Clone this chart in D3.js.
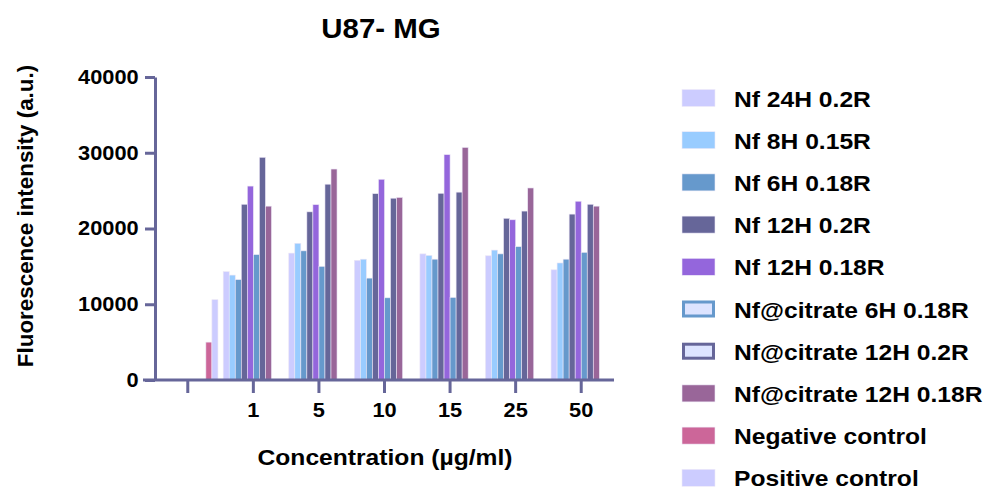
<!DOCTYPE html>
<html>
<head>
<meta charset="UTF-8">
<title>U87- MG</title>
<script src="https://d3js.org/d3.v7.min.js"></script>
<style>
  body { margin: 0; background: #fff; }
  text { font-family: "Liberation Sans", Arial, sans-serif; font-weight: bold; fill: #000; }
</style>
</head>
<body>
<script>
  // data
  var groups = ["", "1", "5", "10", "15", "25", "50"];
  var seriesNames = ["Nf 24H 0.2R", "Nf 8H 0.15R", "Nf 6H 0.18R", "Nf 12H 0.2R", "Nf 12H 0.18R",
                     "Nf@citrate 6H 0.18R", "Nf@citrate 12H 0.2R", "Nf@citrate 12H 0.18R",
                     "Negative control", "Positive control"];
  var nf24h     = [null, 14300, 16750, 15800, 16650, 16400, 14550];
  var nf8h      = [null, 13850, 18050, 15950, 16450, 17150, 15450];
  var nf6h      = [null, 13250, 17050, 13450, 15950, 16650, 15950];
  var nf12h02   = [null, 23200, 22200, 24600, 24650, 21350, 21900];
  var nf12h018  = [null, 25600, 23150, 26500, 29750, 21150, 23600];
  var cit6h     = [null, 16550, 15000, 10850, 10900, 17600, 16850];
  var cit12h02  = [null, 29400, 25850, 24000, 24800, 22300, 23200];
  var cit12h018 = [null, 22950, 27850, 24100, 30700, 25350, 22950];
  var negCtrl   = [5000, null, null, null, null, null, null];
  var posCtrl   = [10600, null, null, null, null, null, null];
  var yTicks = [0, 10000, 20000, 30000, 40000];

  var seriesValues = [nf24h, nf8h, nf6h, nf12h02, nf12h018, cit6h, cit12h02, cit12h018, negCtrl, posCtrl];
  var colors = ["#ccccff", "#99ccff", "#6699cc", "#666699", "#9466dc",
                "#6699cc", "#666699", "#996699", "#cc6699", "#ccccff"];
  var outlined = [false, false, false, false, false, true, true, false, false, false];
  var axisColor = "#666699";

  var width = 992, height = 492;
  var svg = d3.select("body").append("svg")
      .attr("width", width)
      .attr("height", height);

  var x0 = d3.scaleBand().domain(groups).range([155, 614]).paddingInner(0.08).paddingOuter(0.04);
  var x1 = d3.scaleBand().domain(seriesNames).range([0, x0.bandwidth()]);
  var y = d3.scaleLinear().domain([0, 40000]).range([380, 77]);

  // bars
  var rows = [];
  seriesNames.forEach(function(name, s) {
    groups.forEach(function(g, i) {
      if (seriesValues[s][i] != null) rows.push({ s: s, name: name, group: g, value: seriesValues[s][i] });
    });
  });

  svg.append("g").selectAll("rect")
    .data(rows)
    .enter().append("rect")
      .attr("x", function(d) { return x0(d.group) + x1(d.name); })
      .attr("y", function(d) { return y(d.value); })
      .attr("width", x1.bandwidth())
      .attr("height", function(d) { return y(0) - y(d.value); })
      .attr("fill", function(d) { return colors[d.s]; })
      .attr("stroke", "#ece6f6")
      .attr("stroke-width", 0.6);

  // y axis
  var yAxis = svg.append("g")
      .attr("transform", "translate(155,0)")
      .call(d3.axisLeft(y).tickValues(yTicks).tickFormat(d3.format("d")).tickSize(10).tickSizeOuter(0).tickPadding(5));
  yAxis.selectAll("path, line").attr("stroke", axisColor).attr("stroke-width", 3);
  yAxis.selectAll("text").style("font-size", "20px").attr("transform", "scale(1.09,1)");

  // x axis
  var xAxis = svg.append("g")
      .attr("transform", "translate(0,380)")
      .call(d3.axisBottom(x0).tickSize(13).tickSizeOuter(0).tickPadding(9));
  xAxis.select(".domain").remove();
  xAxis.selectAll("line").attr("stroke", axisColor).attr("stroke-width", 3);
  xAxis.selectAll("text").style("font-size", "20px").attr("transform", "scale(1.09,1)").attr("dy", "0.75em");
  xAxis.append("line")
      .attr("x1", 143).attr("x2", 614)
      .attr("stroke", axisColor).attr("stroke-width", 3);

  // title and axis labels
  svg.append("g").attr("transform", "translate(381,38)")
    .append("text").attr("text-anchor", "middle")
      .attr("transform", "scale(1.07,1)")
      .style("font-size", "27.5px")
      .text("U87- MG");

  svg.append("g").attr("transform", "translate(385,465)")
    .append("text").attr("text-anchor", "middle")
      .attr("transform", "scale(1.12,1)")
      .style("font-size", "22px")
      .text("Concentration (µg/ml)");

  svg.append("text")
      .attr("transform", "translate(33,216) rotate(-90)")
      .attr("text-anchor", "middle")
      .style("font-size", "22.4px")
      .text("Fluorescence intensity (a.u.)");

  // legend
  var legend = svg.append("g").selectAll("g")
    .data(seriesNames)
    .enter().append("g")
      .attr("transform", function(d, i) { return "translate(682," + (98 + i * 42.2) + ")"; });

  legend.append("rect")
      .attr("x", function(d, i) { return outlined[i] ? 1.5 : 0; })
      .attr("y", function(d, i) { return outlined[i] ? -7 : -8.5; })
      .attr("width", function(d, i) { return outlined[i] ? 30 : 33; })
      .attr("height", function(d, i) { return outlined[i] ? 14 : 17; })
      .attr("fill", function(d, i) { return outlined[i] ? "#dde4ff" : colors[i]; })
      .attr("stroke", function(d, i) { return outlined[i] ? colors[i] : "#eeeaf8"; })
      .attr("stroke-width", function(d, i) { return outlined[i] ? 3 : 0.6; });

  legend.append("g").attr("transform", "translate(52,8.5)")
    .append("text")
      .attr("transform", "scale(1.12,1)")
      .style("font-size", "22px")
      .text(function(d) { return d; });
</script>
</body>
</html>
